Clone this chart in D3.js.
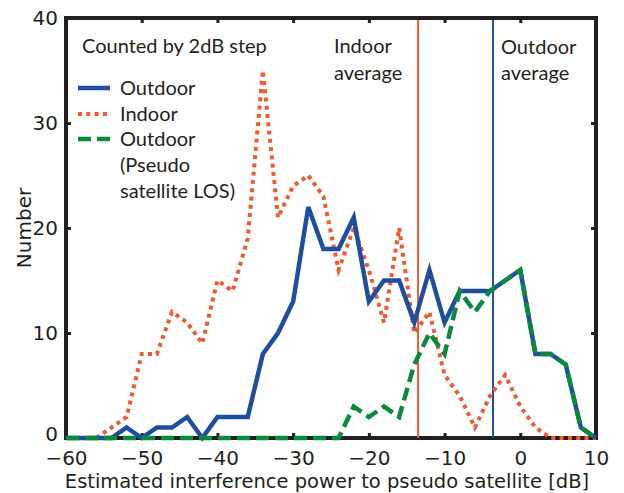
<!DOCTYPE html>
<html>
<head>
<meta charset="utf-8">
<script src="https://cdn.jsdelivr.net/npm/d3@7"></script>
<style>
  html, body { margin: 0; padding: 0; background: #fff; }
  svg { display: block; }
</style>
</head>
<body>
<svg id="chart" width="624" height="493"></svg>
<script>
// Bin centres in dB (2 dB steps)
const binsDb = d3.range(-60, 11, 2);

// Counts per bin
const outdoorCounts = [0, 0, 0, 0, 1, 0, 1, 1, 2, 0, 2, 2, 2, 8, 10, 13, 22, 18, 18, 21,
                       13, 15, 15, 11, 16, 11, 14, 14, 14, 15, 16, 8, 8, 7, 1, 0];
const losCounts     = [0, 0, 0, 0, 0, 0, 0, 0, 0, 0, 0, 0, 0, 0, 0, 0, 0, 0, 0, 3,
                       2, 3, 2, 7, 10, 8, 14, 12, 14, 15, 16, 8, 8, 7, 1, 0];
// Indoor series starts at -56 dB
const indoorBins    = d3.range(-56, 11, 2);
const indoorCounts  = [0, 1, 2, 8, 8, 12, 11, 9, 15, 14, 19, 35, 21, 24, 25, 23, 16, 20,
                       16, 11, 20, 10, 12, 6, 4, 1, 4, 6, 3, 1, 0, 0, 0, 0];

// Average levels (dB)
const indoorAverage = -13.5;
const outdoorAverage = -3.6;

const xTicks = [-60, -50, -40, -30, -20, -10, 0, 10];
const yTicks = [0, 10, 20, 30, 40];

const legendItems = [
  { label: ["Outdoor"], key: "outdoor" },
  { label: ["Indoor"], key: "indoor" },
  { label: ["Outdoor", "(Pseudo", "satellite LOS)"], key: "los" }
];

const colors = { outdoor: "#1f4ea1", indoor: "#f05a30", los: "#0b8a3e" };
const dashes = { outdoor: null, indoor: "4,4.3", los: "13,6" };
const widths = { outdoor: 4.5, indoor: 4, los: 4.5 };
const ink = "#231f20";
const labelFont = "Lato, 'Open Sans', sans-serif";
const axisFont = "'DejaVu Sans', 'Liberation Sans', sans-serif";

const svg = d3.select("#chart");
const plotL = 66, plotR = 596, plotT = 18, plotB = 438;

const x = d3.scaleLinear().domain([-60, 10]).range([plotL, plotR]);
const y = d3.scaleLinear().domain([0, 40]).range([plotB, plotT]);

svg.append("rect").attr("width", 624).attr("height", 493).attr("fill", "#fff");

// Axes with short inward ticks
function styleAxis(g, showText) {
  g.select(".domain").remove();
  g.selectAll(".tick line").attr("stroke", ink).attr("stroke-width", 3);
  g.selectAll(".tick text")
    .attr("fill", ink)
    .style("font-family", axisFont)
    .style("font-size", "20px");
  if (!showText) g.selectAll(".tick text").remove();
}

const fmt = d => (d < 0 ? "\u2212" + Math.abs(d) : String(d));

svg.append("g").attr("transform", `translate(0,${plotB})`)
  .call(d3.axisBottom(x).tickValues(xTicks).tickSize(-5).tickPadding(12.5).tickFormat(fmt))
  .call(g => styleAxis(g, true));
svg.append("g").attr("transform", `translate(0,${plotT})`)
  .call(d3.axisTop(x).tickValues(xTicks).tickSize(-5).tickFormat(""))
  .call(g => styleAxis(g, false));
svg.append("g").attr("transform", `translate(${plotL},0)`)
  .call(d3.axisLeft(y).tickValues(yTicks).tickSize(-5).tickPadding(8).tickFormat(fmt))
  .call(g => styleAxis(g, true))
  // the zero label sits just above the corner
  .call(g => g.selectAll(".tick text").filter(d => d === 0).attr("dy", "0.12em"));
svg.append("g").attr("transform", `translate(${plotR},0)`)
  .call(d3.axisRight(y).tickValues(yTicks).tickSize(-5).tickFormat(""))
  .call(g => styleAxis(g, false));

// Plot frame
svg.append("rect")
  .attr("x", plotL).attr("y", plotT)
  .attr("width", plotR - plotL).attr("height", plotB - plotT)
  .attr("fill", "none").attr("stroke", ink).attr("stroke-width", 4);

// Average markers
svg.append("line")
  .attr("x1", x(indoorAverage)).attr("x2", x(indoorAverage))
  .attr("y1", plotT + 2).attr("y2", plotB)
  .attr("stroke", colors.indoor).attr("stroke-width", 2);
svg.append("line")
  .attr("x1", x(outdoorAverage)).attr("x2", x(outdoorAverage))
  .attr("y1", plotT + 2).attr("y2", plotB)
  .attr("stroke", colors.outdoor).attr("stroke-width", 2);

// Series
const line = d3.line().x(d => x(d[0])).y(d => y(d[1]));
const series = [
  { key: "indoor", data: d3.zip(indoorBins, indoorCounts) },
  { key: "outdoor", data: d3.zip(binsDb, outdoorCounts) },
  { key: "los", data: d3.zip(binsDb, losCounts) }
];
series.forEach(s => {
  svg.append("path")
    .datum(s.data)
    .attr("d", line)
    .attr("fill", "none")
    .attr("stroke", colors[s.key])
    .attr("stroke-width", widths[s.key])
    .attr("stroke-dasharray", dashes[s.key])
    .attr("stroke-linejoin", "miter");
});

// Text annotations
function addText(lines, x0, y0, step) {
  const t = svg.append("text")
    .attr("x", x0).attr("y", y0)
    .attr("fill", ink)
    .style("font-family", labelFont)
    .style("font-size", "20px");
  lines.forEach((s, i) => {
    t.append("tspan").attr("x", x0).attr("y", y0 + i * step).text(s);
  });
}

addText(["Counted by 2dB step"], 82, 53, 0);
addText(["Indoor", "average"], 334, 53, 27);
addText(["Outdoor", "average"], 501, 54, 26);

// Legend
const legendY = [88, 114, 139];
legendItems.forEach((item, i) => {
  const ly = legendY[i];
  svg.append("line")
    .attr("x1", 78).attr("x2", 110).attr("y1", ly).attr("y2", ly)
    .attr("stroke", colors[item.key])
    .attr("stroke-width", widths[item.key])
    .attr("stroke-dasharray", dashes[item.key]);
  addText(item.label, 120, ly + 7, 26);
});

// Axis titles
svg.append("text")
  .attr("x", (plotL + plotR) / 2 - 4).attr("y", 488)
  .attr("text-anchor", "middle")
  .attr("fill", ink)
  .style("font-family", axisFont)
  .style("font-size", "19.5px")
  .text("Estimated interference power to pseudo satellite [dB]");

svg.append("text")
  .attr("transform", `translate(31,${(plotT + plotB) / 2}) rotate(-90)`)
  .attr("text-anchor", "middle")
  .attr("fill", ink)
  .style("font-family", axisFont)
  .style("font-size", "20px")
  .text("Number");
</script>
</body>
</html>
